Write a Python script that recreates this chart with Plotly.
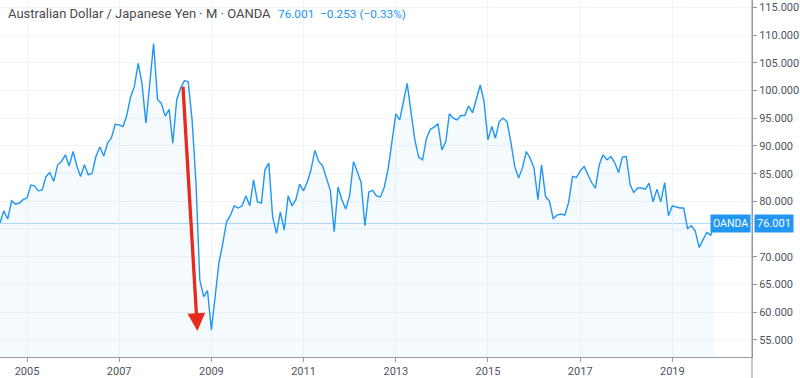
import pandas as pd
import plotly.graph_objects as go

# ---- data (monthly closes, AUD/JPY) ----
start_month = "2004-06-01"
values_2004 = [76.1, 78.3, 76.8, 80.1, 79.5, 79.7, 80.3]
values_2005 = [80.6, 82.95, 82.8, 81.9, 82.05, 84.5, 85.2, 83.6, 86.6, 87.2, 88.4, 86.4]
values_2006 = [89.0, 86.3, 84.5, 86.6, 84.8, 85.1, 88.1, 89.8, 88.2, 90.5, 91.5, 93.9]
values_2007 = [93.8, 93.5, 95.4, 98.8, 100.7, 104.9, 101.3, 94.1, 101.9, 108.5, 98.4, 97.7]
values_2008 = [95.4, 96.6, 90.5, 98.3, 100.4, 101.8, 101.6, 94.7, 83.3, 65.8, 62.8, 63.9]
values_2009 = [56.8, 62.8, 68.8, 72.4, 76.3, 77.5, 79.2, 78.8, 79.2, 81.0, 79.2, 83.9]
values_2010 = [79.9, 79.7, 85.7, 86.9, 77.2, 74.2, 78.1, 74.8, 81.0, 79.2, 80.3, 83.1]
values_2011 = [81.9, 83.6, 85.7, 89.2, 87.2, 86.4, 84.3, 82.0, 74.5, 82.6, 80.3, 78.6]
values_2012 = [81.0, 87.2, 85.4, 83.4, 75.6, 81.7, 82.0, 81.0, 80.8, 82.5, 85.8, 90.5]
values_2013 = [95.8, 94.7, 98.0, 101.3, 96.2, 91.1, 88.0, 87.5, 91.4, 93.0, 93.4, 94.0]
values_2014 = [89.3, 90.8, 95.8, 95.0, 94.7, 95.5, 95.5, 97.2, 96.0, 98.6, 101.0, 98.0]
values_2015 = [91.1, 93.5, 91.4, 94.4, 95.0, 94.4, 90.8, 86.3, 84.2, 86.0, 89.0, 87.8]
values_2016 = [86.0, 80.3, 86.6, 80.9, 80.1, 76.9, 77.5, 77.7, 77.5, 79.8, 84.5, 84.3]
values_2017 = [85.5, 86.3, 84.8, 83.4, 82.4, 86.6, 88.4, 87.5, 88.1, 87.0, 85.2, 88.0]
values_2018 = [88.1, 83.0, 81.6, 82.4, 82.4, 82.2, 83.3, 79.9, 82.2, 79.9, 83.4, 77.4]
values_2019 = [79.2, 79.0, 78.8, 78.8, 75.1, 75.6, 74.7, 71.7, 73.0, 74.4, 73.9, 76.001]

last_price = 76.001
title_main = "Australian Dollar / Japanese Yen · M · OANDA"
title_quote = "76.001  −0.253 (−0.33%)"
x_tick_labels = ["2005", "2007", "2009", "2011", "2013", "2015", "2017", "2019"]
# 75.000 sits under the last-price badge in the reference, so only its gridline is drawn
y_tick_values = [55, 60, 65, 70, 80, 85, 90, 95, 100, 105, 110, 115]
hidden_grid_value = 75

# arrow (tail -> head) in data coordinates
arrow_tail = ("2008-05-20", 101.0)
arrow_head = ("2008-09-12", 56.6)

values = (values_2004 + values_2005 + values_2006 + values_2007 + values_2008 +
          values_2009 + values_2010 + values_2011 + values_2012 + values_2013 +
          values_2014 + values_2015 + values_2016 + values_2017 + values_2018 +
          values_2019)
dates = pd.date_range(start_month, periods=len(values), freq="MS")

BLUE = "#2196f3"
FONT = "Roboto, Liberation Sans, sans-serif"

fig = go.Figure()
fig.add_trace(go.Scatter(
    x=dates, y=values, mode="lines",
    line=dict(color=BLUE, width=1.4),
    fill="tozeroy", fillcolor="rgba(33,150,243,0.05)",
    hoverinfo="skip",
))

# gridline under the price badge
fig.add_shape(type="line", xref="paper", x0=0, x1=1, yref="y",
              y0=hidden_grid_value, y1=hidden_grid_value,
              line=dict(color="#f0f3fa", width=1), layer="below")
# last price line
fig.add_shape(type="line", xref="paper", x0=0, x1=1, yref="y",
              y0=last_price, y1=last_price,
              line=dict(color="rgba(33,150,243,0.35)", width=1), layer="below")
# right axis line extending to bottom
fig.add_shape(type="line", xref="paper", x0=1, x1=1, yref="paper", y0=-0.06, y1=1,
              line=dict(color="#9598a1", width=1))

fig.add_annotation(
    xref="paper", yref="paper", x=0.008, y=0.962, xanchor="left", yanchor="middle",
    text=title_main, showarrow=False,
    font=dict(size=13, family=FONT, color="#4a4a4a"),
)
fig.add_annotation(
    xref="paper", yref="paper", x=0.367, y=0.962, xanchor="left", yanchor="middle",
    text=title_quote, showarrow=False,
    font=dict(size=11.8, family=FONT, color=BLUE),
)

fig.add_annotation(
    xref="paper", yref="y", x=0.999, y=last_price, xanchor="right", yanchor="middle",
    text="OANDA", showarrow=False, bgcolor=BLUE, borderpad=2,
    font=dict(size=10.5, color="white", family=FONT),
)
fig.add_annotation(
    xref="paper", yref="y", x=1.003, y=last_price, xanchor="left", yanchor="middle",
    text=f"{last_price:.3f}", showarrow=False, bgcolor=BLUE, borderpad=2,
    font=dict(size=11, color="white", family=FONT),
)

fig.add_annotation(
    x=arrow_head[0], y=arrow_head[1], ax=arrow_tail[0], ay=arrow_tail[1],
    xref="x", yref="y", axref="x", ayref="y",
    showarrow=True, arrowhead=2, arrowwidth=3.3, arrowsize=1.07,
    arrowcolor="#e8291c", text="", standoff=0,
)

tick_dates = [f"{y}-01-01" for y in x_tick_labels]
fig.update_xaxes(
    range=["2004-06-01", "2020-09-23"],
    tickvals=tick_dates, ticktext=x_tick_labels,
    showgrid=True, gridcolor="#f0f3fa", gridwidth=1,
    showline=True, linecolor="#9598a1", linewidth=1,
    ticks="outside", ticklen=4, tickcolor="#9598a1",
    tickfont=dict(size=11, color="#50535e", family=FONT),
    zeroline=False,
)
fig.update_yaxes(
    side="right", range=[51.9, 116.35],
    tickvals=y_tick_values, tickformat=".3f",
    showgrid=True, gridcolor="#f0f3fa", gridwidth=1,
    showline=True, linecolor="#9598a1", linewidth=1,
    ticks="outside", ticklen=4, tickcolor="#9598a1",
    tickfont=dict(size=11, color="#50535e", family=FONT),
    zeroline=False,
)

fig.update_layout(
    width=800, height=378,
    margin=dict(l=0, r=48, t=0, b=21),
    paper_bgcolor="white", plot_bgcolor="white",
    showlegend=False,
)

fig.write_html("out.html", config={"displayModeBar": False},
               post_script="document.body.style.margin='0';")
